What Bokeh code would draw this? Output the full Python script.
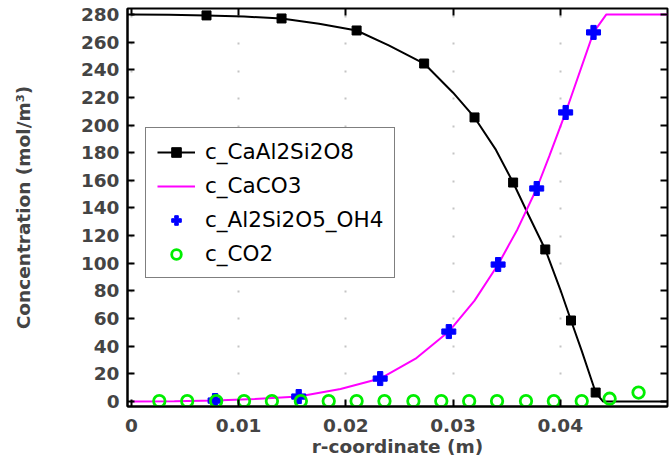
from bokeh.plotting import figure
from bokeh.models import (LinearAxis, Range1d, Legend, LegendItem, FixedTicker,
                          CustomLabelingPolicy)
from bokeh.embed import file_html
from bokeh.resources import INLINE

# ---- data ----
# c_CaAl2Si2O8 : smooth line + square markers
caal_line_x = [0.0, 0.0035, 0.007, 0.0105, 0.014, 0.0175, 0.021, 0.024, 0.0273, 0.030,
               0.032, 0.034, 0.0356, 0.037, 0.0386, 0.040, 0.041, 0.042, 0.0433, 0.0440,
               0.047, 0.050]
caal_line_y = [280.0, 279.8, 279.3, 278.5, 277.1, 273.3, 268.4, 257.6, 244.5, 223.4,
               205.5, 182.0, 158.4, 135.5, 110.0, 81.0, 58.6, 36.6, 6.5, 0.0,
               0.0, 0.0]
caal_mark_x = [0.0070, 0.0140, 0.0210, 0.0273, 0.0320, 0.0356, 0.0386, 0.0410, 0.0433]
caal_mark_y = [279.3, 277.1, 268.4, 244.5, 205.5, 158.4, 110.0, 58.6, 6.5]

# c_CaCO3 : magenta line
caco3_x = [0.0, 0.004, 0.0078, 0.0115, 0.0156, 0.0195, 0.0232, 0.0265, 0.0296, 0.032,
           0.0342, 0.036, 0.0378, 0.039, 0.0405, 0.0431, 0.0443, 0.050]
caco3_y = [0.0, 0.2, 0.7, 1.8, 3.6, 9.0, 16.6, 31.0, 50.6, 73.0,
           99.1, 124.5, 154.1, 178.0, 209.1, 267.0, 280.0, 280.0]

# c_Al2Si2O5_OH4 : blue plus markers
kao_x = [0.0078, 0.0156, 0.0232, 0.0296, 0.0342, 0.0378, 0.0405, 0.0431]
kao_y = [0.7, 3.6, 16.6, 50.6, 99.1, 154.1, 209.1, 267.0]

# c_CO2 : green open circles
co2_x = [0.0026, 0.0052, 0.0079, 0.0105, 0.0131, 0.0158, 0.0184, 0.0210, 0.0236,
         0.0263, 0.0289, 0.0315, 0.0341, 0.0368, 0.0394, 0.0420, 0.0446, 0.0473]
co2_y = [0.3, 0.3, 0.3, 0.3, 0.3, 0.3, 0.3, 0.3, 0.3,
         0.3, 0.3, 0.3, 0.3, 0.3, 0.3, 0.3, 2.0, 6.5]

x_ticks = [0, 0.01, 0.02, 0.03, 0.04]
x_tick_labels = {0: "0", 0.01: "0.01", 0.02: "0.02", 0.03: "0.03", 0.04: "0.04"}
y_ticks = [0, 20, 40, 60, 80, 100, 120, 140, 160, 180, 200, 220, 240, 260, 280]

FONT = "DejaVu Sans"

p = figure(width=672, height=462, output_backend="svg", toolbar_location=None,
           x_range=Range1d(-0.00037, 0.05), y_range=Range1d(-3.6, 284.3),
           min_border_left=127, min_border_right=2, min_border_top=8, min_border_bottom=56,
           x_axis_label="r-coordinate (m)", y_axis_label="Concentration (mol/m³)")

p.outline_line_color = "black"
p.outline_line_width = 2
p.background_fill_color = "white"
p.border_fill_color = "white"

# grid drawn as faint dots at tick intersections
p.ygrid.grid_line_color = None
p.xgrid.ticker = FixedTicker(ticks=x_ticks)
p.xgrid.grid_line_color = "#c4c4c4"
p.xgrid.grid_line_width = 2
p.xgrid.grid_line_dash = "2 25 2 26"
p.xgrid.grid_line_dash_offset = 23

for ax in (p.xaxis[0], p.yaxis[0]):
    ax.axis_line_width = 2
    ax.major_tick_line_width = 2
    ax.major_tick_in = 7
    ax.major_tick_out = 0
    ax.minor_tick_line_color = None
    ax.major_label_text_font = FONT
    ax.major_label_text_font_style = "bold"
    ax.major_label_text_font_size = "18.5px"
    ax.axis_label_text_font = FONT
    ax.axis_label_text_font_style = "bold"
    ax.axis_label_text_font_size = "18.5px"

p.xaxis[0].ticker = FixedTicker(ticks=x_ticks)
p.xaxis[0].major_label_overrides = x_tick_labels
p.xaxis[0].major_label_standoff = 12
p.xaxis[0].axis_label_standoff = 1
p.yaxis[0].ticker = FixedTicker(ticks=y_ticks)
p.yaxis[0].major_label_standoff = 8
p.yaxis[0].axis_label_standoff = 44

no_labels = CustomLabelingPolicy(code="return new Set()")
top = LinearAxis(ticker=FixedTicker(ticks=x_ticks), major_tick_in=7, major_tick_out=0,
                 major_tick_line_width=2, axis_line_color=None, minor_tick_line_color=None,
                 major_label_text_font_size="1px", major_label_standoff=0,
                 major_label_policy=no_labels)
right = LinearAxis(ticker=FixedTicker(ticks=y_ticks), major_tick_in=7, major_tick_out=0,
                   major_tick_line_width=2, axis_line_color=None, minor_tick_line_color=None,
                   major_label_text_font_size="1px", major_label_standoff=0,
                   major_label_policy=no_labels)
p.add_layout(top, "above")
p.add_layout(right, "right")

r_line = p.line(caal_line_x, caal_line_y, line_color="black", line_width=2)
r_sq = p.scatter(caal_mark_x, caal_mark_y, marker="square", size=9,
                 fill_color="black", line_color="black")
r_mag = p.line(caco3_x, caco3_y, line_color="#ff00ff", line_width=2)
r_plus = p.scatter(kao_x, kao_y, marker="plus", size=14,
                   fill_color="#0000ff", line_color="#0000ff")
r_co2 = p.scatter(co2_x, co2_y, marker="circle", size=11.5, fill_color=None,
                  line_color="#00ee00", line_width=2.8)

legend = Legend(items=[
    LegendItem(label="c_CaAl2Si2O8", renderers=[r_line, r_sq]),
    LegendItem(label="c_CaCO3", renderers=[r_mag]),
    LegendItem(label="c_Al2Si2O5_OH4", renderers=[r_plus]),
    LegendItem(label="c_CO2", renderers=[r_co2]),
], location=(18, 128))
legend.label_text_font = FONT
legend.label_text_font_size = "21.5px"
legend.label_text_color = "black"
legend.glyph_width = 38
legend.glyph_height = 24
legend.label_height = 24
legend.label_standoff = 10
legend.spacing = 9
legend.padding = 11
legend.margin = 0
legend.border_line_color = "black"
legend.border_line_width = 1.5
legend.background_fill_color = "white"
legend.background_fill_alpha = 1
p.add_layout(legend, "center")

open("out.html", "w").write(file_html(p, INLINE))
